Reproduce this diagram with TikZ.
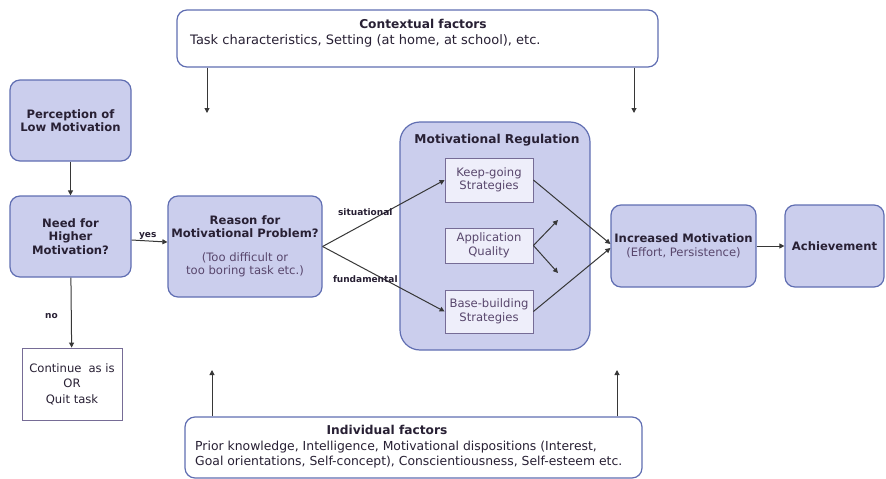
\documentclass[tikz,border=0pt]{standalone}
\usepackage{fontspec}
\setmainfont{DejaVu Sans}
\usetikzlibrary{arrows.meta}
\definecolor{boxfill}{RGB}{203,206,237}
\definecolor{boxline}{RGB}{96,110,178}
\definecolor{innerfill}{RGB}{238,238,250}
\definecolor{innerline}{RGB}{118,108,150}
\definecolor{ink}{RGB}{40,32,52}
\definecolor{softink}{RGB}{88,70,108}
\definecolor{wire}{RGB}{55,55,55}
\tikzset{
  stage/.style={draw=boxline, fill=boxfill, line width=1.2pt, rounded corners=10pt,
    align=center, text=ink, inner sep=0pt,
    font=\bfseries\fontsize{11.6}{13.5}\selectfont},
  factorbox/.style={draw=boxline, fill=white, line width=1.2pt, rounded corners=10pt, inner sep=0pt},
  strat/.style={draw=innerline, fill=innerfill, line width=0.8pt, align=center,
    text=softink, inner sep=0pt, font=\fontsize{11.6}{13.5}\selectfont},
  endbox/.style={draw=innerline, fill=white, line width=0.8pt, align=center,
    text=ink, inner sep=0pt, font=\fontsize{11.6}{15.5}\selectfont},
  plain/.style={text=ink, inner sep=0pt, align=left},
  heading/.style={text=ink, inner sep=0pt, font=\bfseries\fontsize{12.2}{14}\selectfont},
  arr/.style={draw=wire, line width=1pt, -{Triangle[length=5pt,width=5pt]}},
  tag/.style={text=ink, inner sep=1pt, font=\bfseries\fontsize{9}{10}\selectfont},
}
\begin{document}
\begin{tikzpicture}[x=1pt,y=-1pt]
\useasboundingbox (0,0) rectangle (886,479);

% contextual factors
\node[factorbox, minimum width=481pt, minimum height=57pt] (ctx) at (417.5,38.5) {};
\node[heading] (ctxtitle) at (423,24) {Contextual factors};
\node[plain, anchor=west, font=\fontsize{13}{15}\selectfont] (ctxbody) at (190,41)
  {Task characteristics, Setting (at home, at school), etc.};

% individual factors
\node[factorbox, minimum width=457pt, minimum height=61pt] (ind) at (413.5,447.5) {};
\node[heading] (indtitle) at (387,430) {Individual factors};
\node[plain, anchor=west, font=\fontsize{12.4}{15}\selectfont] (indbody) at (195,454.5)
  {Prior knowledge, Intelligence, Motivational dispositions (Interest,\\Goal orientations, Self-concept), Conscientiousness, Self-esteem etc.};

% left column
\node[stage, minimum width=121pt, minimum height=81pt] (perc) at (70.5,120.5) {Perception of\\Low Motivation};
\node[stage, minimum width=121pt, minimum height=81pt] (need) at (70.5,236.5) {Need for\\Higher\\Motivation?};
\node[endbox, minimum width=100pt, minimum height=72pt] (cont) at (72,384) {Continue\hspace{0.6em}as is\\OR\\Quit task};

% reason
\node[stage, minimum width=154pt, minimum height=101pt] (reason) at (245,246.5)
  {Reason for\\Motivational Problem?\\[10pt]{\mdseries\color{softink}(Too difficult or}\\{\mdseries\color{softink}too boring task etc.)}};

% motivational regulation
\node[stage, rounded corners=20pt, minimum width=190pt, minimum height=228pt] (mr) at (495,236) {};
\node[heading] (mrtitle) at (497,140) {Motivational Regulation};
\node[strat, minimum width=88pt, minimum height=44pt] (keep) at (489,180) {Keep-going\\Strategies};
\node[strat, minimum width=88pt, minimum height=35pt] (appq) at (489,245.5) {Application\\Quality};
\node[strat, minimum width=88pt, minimum height=43pt] (base) at (489,311.5) {Base-building\\Strategies};

% outcomes
\node[stage, minimum width=145pt, minimum height=82pt] (incr) at (683.5,246)
  {Increased Motivation\\{\mdseries\color{softink}(Effort, Persistence)}};
\node[stage, minimum width=99pt, minimum height=82pt] (ach) at (834.5,246) {Achievement};

% free arrow ends
\coordinate (ctxL) at (207,113);
\coordinate (ctxR) at (634,113);
\coordinate (indL) at (212,370);
\coordinate (indR) at (617,370);
\coordinate (appU) at (558,220);
\coordinate (appD) at (558,273);

% connectors
\draw[arr] (ctxL |- ctx.south) -- (ctxL);
\draw[arr] (ctxR |- ctx.south) -- (ctxR);
\draw[arr] (indL |- ind.north) -- (indL);
\draw[arr] (indR |- ind.north) -- (indR);
\draw[arr] (perc) -- (need);
\draw[arr] (need) -- node[tag, pos=0.45, above] {yes} (reason);
\draw[arr] (need) -- node[tag, pos=0.55, left=12pt] {no} (cont);
\draw[arr] (reason.east) -- node[tag, pos=0.35, above=6pt] {situational} (keep.west);
\draw[arr] (reason.east) -- node[tag, pos=0.35, below=5pt] {fundamental} (base.west);
\draw[arr] (appq.east) -- (appU);
\draw[arr] (appq.east) -- (appD);
\draw[arr] (keep.east) -- ([yshift=2pt]incr.west);
\draw[arr] (base.east) -- ([yshift=-2pt]incr.west);
\draw[arr] (incr) -- (ach);
\end{tikzpicture}
\end{document}
